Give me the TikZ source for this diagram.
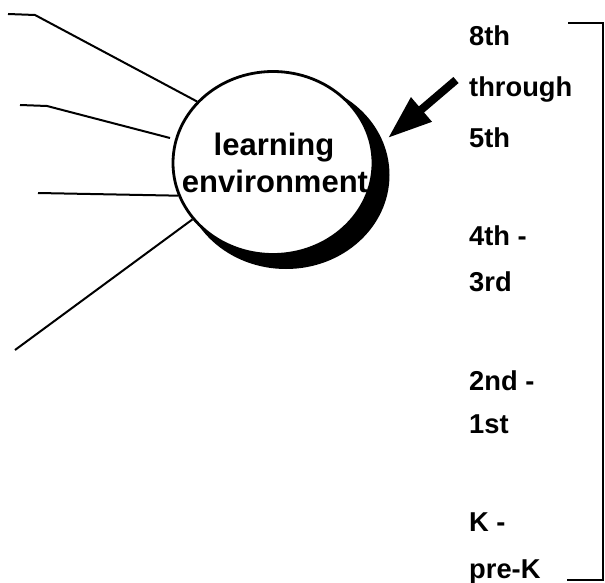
\documentclass[tikz,border=0pt]{standalone}
\usepackage{fontspec}
\setmainfont{Liberation Sans}
\usetikzlibrary{shapes.geometric,arrows.meta}
\begin{document}
\begin{tikzpicture}[x=1pt,y=-1pt,
  ray/.style={line width=2pt, line join=round},
  grade/.style={anchor=base west, inner sep=0pt, font=\fontsize{27.3}{30}\selectfont\bfseries},
  envtext/.style={anchor=base, inner sep=0pt, font=\fontsize{31}{36}\selectfont\bfseries},
  bracketline/.style={line width=2pt}]
\useasboundingbox (0,0) rectangle (605,583);
% shadow and circle
\node[ellipse, fill=black, inner sep=0pt, minimum width=207pt, minimum height=188pt] (shadow) at (286,175) {};
\node[ellipse, draw, fill=white, line width=2.8pt, inner sep=0pt, minimum width=200pt, minimum height=183pt] (env) at (273,163) {};
\node[envtext] (t1) at (274,155) {learning};
\node[envtext] (t2) at (275,193) {environment};
% rays on the left
\coordinate (r1a) at (8,14);   \coordinate (r1b) at (35,15);
\coordinate (r2a) at (20,105); \coordinate (r2b) at (47,106); \coordinate (r2c) at (170,138);
\coordinate (r3a) at (38,193);
\coordinate (r4a) at (15,350);
\draw[ray] (r1a) -- (r1b) -- (env.141);
\draw[ray] (r2a) -- (r2b) -- (r2c);
\draw[ray] (r3a) -- (env.199);
\draw[ray] (r4a) -- (env.215);
% arrow
\coordinate (atail) at (456,80);
\coordinate (atip) at (388,138);
\draw[line width=8pt, -{Triangle[length=44pt,width=30pt]}] (atail) -- (atip);
% grades
\node[grade] (g1) at (469,46) {8th};
\node[grade] (g2) at (469,97) {through};
\node[grade] (g3) at (469,148) {5th};
\node[grade] (g4) at (469,245) {4th -};
\node[grade] (g5) at (469,291) {3rd};
\node[grade] (g6) at (469,390) {2nd -};
\node[grade] (g7) at (469,433) {1st};
\node[grade] (g8) at (469,531) {K -};
\node[grade] (g9) at (469,578) {pre-K};
% bracket
\coordinate (b1) at (568,23); \coordinate (b2) at (603,23);
\coordinate (b3) at (603,580); \coordinate (b4) at (567,580);
\draw[bracketline] (b1) -- (b2) -- (b3) -- (b4);
\end{tikzpicture}
\end{document}
